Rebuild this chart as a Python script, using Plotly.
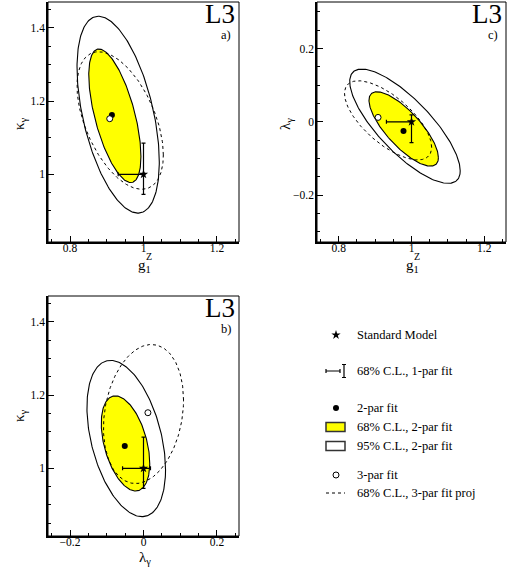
import numpy as np
import plotly.graph_objects as go

W, H = 507, 573
FONT = "Liberation Serif"

# ---------------- data ----------------
# parameter order: g1Z, kappa_gamma, lambda_gamma
SM = [1.0, 1.0, 0.0]
FIT1_VAL = [0.966, 1.015, -0.019]
FIT1_ERR = [0.035, 0.070, 0.038]
FIT3 = [0.908, 1.152, 0.012]

# 2-parameter fit central values per panel (x, y)
FIT2_A = [0.914, 1.162]     # g1Z vs kappa
FIT2_C = [0.978, -0.025]    # g1Z vs lambda
FIT2_B = [-0.051, 1.061]    # lambda vs kappa

# contours: [centre x, centre y, half-extent x, half-extent y, correlation]
A_CL68 = [0.922, 1.160, 0.071, 0.1825, -0.61]
A_CL95 = [0.931, 1.163, 0.112, 0.269, -0.48]
A_PROJ = [0.9365, 1.147, 0.1175, 0.188, -0.50]

C_CL68 = [0.9785, -0.0195, 0.0955, 0.1015, -0.77]
C_CL95 = [0.982, -0.012, 0.152, 0.156, -0.78]
C_PROJ = [0.9355, 0.004, 0.120, 0.108, -0.68]

B_CL68 = [-0.049, 1.068, 0.066, 0.130, -0.42]
B_CL95 = [-0.047, 1.0815, 0.107, 0.2135, -0.40]
B_PROJ = [0.000, 1.1485, 0.109, 0.190, 0.20]

# axis ticks: [tick0, major step, minor step]
TICK_STEPS = [0.0, 0.2, 0.05]

RANGE_G1Z = [0.74, 1.26]
RANGE_KAPPA = [0.815, 1.471]
RANGE_LAMBDA_X = [-0.26, 0.26]
RANGE_LAMBDA_Y = [-0.328, 0.327]

LEGEND_LABELS = ["Standard Model", "68% C.L., 1-par fit", "2-par fit",
                 "68% C.L., 2-par fit", "95% C.L., 2-par fit", "3-par fit",
                 "68% C.L., 3-par fit proj"]


def contour(p, n=240):
    cx, cy, a, b, rho = p
    t = np.linspace(0, 2 * np.pi, n)
    phi = np.arccos(rho)
    return cx + a * np.cos(t), cy + b * np.cos(t - phi)


fig = go.Figure()


def add_panel(xa, ya, cl68, cl95, proj, fit2, fit3, sm, f1x, e1x, f1y, e1y):
    x, y = contour(cl68)
    fig.add_trace(go.Scatter(x=x, y=y, xaxis=xa, yaxis=ya, mode="lines", fill="toself",
                             fillcolor="#ffff00", line=dict(color="black", width=1.1),
                             showlegend=False, hoverinfo="skip"))
    x, y = contour(cl95)
    fig.add_trace(go.Scatter(x=x, y=y, xaxis=xa, yaxis=ya, mode="lines",
                             line=dict(color="black", width=1.1),
                             showlegend=False, hoverinfo="skip"))
    x, y = contour(proj)
    fig.add_trace(go.Scatter(x=x, y=y, xaxis=xa, yaxis=ya, mode="lines",
                             line=dict(color="black", width=1, dash="3px,3px"),
                             showlegend=False, hoverinfo="skip"))
    # 1-par fit error bars, drawn at the SM value of the other parameter
    fig.add_trace(go.Scatter(x=[f1x], y=[sm[1]], xaxis=xa, yaxis=ya, mode="markers",
                             marker=dict(size=1, color="rgba(0,0,0,0)"),
                             error_x=dict(type="data", array=[e1x], color="black",
                                          thickness=1.2, width=2),
                             showlegend=False, hoverinfo="skip"))
    fig.add_trace(go.Scatter(x=[sm[0]], y=[f1y], xaxis=xa, yaxis=ya, mode="markers",
                             marker=dict(size=1, color="rgba(0,0,0,0)"),
                             error_y=dict(type="data", array=[e1y], color="black",
                                          thickness=1.2, width=2),
                             showlegend=False, hoverinfo="skip"))
    fig.add_trace(go.Scatter(x=[sm[0]], y=[sm[1]], xaxis=xa, yaxis=ya, mode="markers",
                             marker=dict(symbol="star", size=7, color="black"),
                             showlegend=False, hoverinfo="skip"))
    fig.add_trace(go.Scatter(x=[fit2[0]], y=[fit2[1]], xaxis=xa, yaxis=ya, mode="markers",
                             marker=dict(symbol="circle", size=6, color="black"),
                             showlegend=False, hoverinfo="skip"))
    fig.add_trace(go.Scatter(x=[fit3[0]], y=[fit3[1]], xaxis=xa, yaxis=ya, mode="markers",
                             marker=dict(symbol="circle", size=6, color="white",
                                         line=dict(color="black", width=1)),
                             showlegend=False, hoverinfo="skip"))


# panel a: g1Z vs kappa
add_panel("x", "y", A_CL68, A_CL95, A_PROJ, FIT2_A, [FIT3[0], FIT3[1]], [SM[0], SM[1]],
          FIT1_VAL[0], FIT1_ERR[0], FIT1_VAL[1], FIT1_ERR[1])
# panel c: g1Z vs lambda
add_panel("x2", "y2", C_CL68, C_CL95, C_PROJ, FIT2_C, [FIT3[0], FIT3[2]], [SM[0], SM[2]],
          FIT1_VAL[0], FIT1_ERR[0], FIT1_VAL[2], FIT1_ERR[2])
# panel b: lambda vs kappa
add_panel("x3", "y3", B_CL68, B_CL95, B_PROJ, FIT2_B, [FIT3[2], FIT3[1]], [SM[2], SM[1]],
          FIT1_VAL[2], FIT1_ERR[2], FIT1_VAL[1], FIT1_ERR[1])


def px(xp):
    return xp / W


def py(yp):
    return 1 - yp / H


def axis(domain, rng, anchor, standoff):
    return dict(domain=domain, range=rng, anchor=anchor, tickmode="linear",
                tick0=TICK_STEPS[0], dtick=TICK_STEPS[1], ticks="inside", ticklen=6,
                tickwidth=1, tickcolor="black", showline=True, linewidth=1.6,
                linecolor="black", showgrid=False, zeroline=False, fixedrange=True,
                ticklabelstandoff=standoff,
                minor=dict(ticks="inside", ticklen=3, tick0=TICK_STEPS[0],
                           dtick=TICK_STEPS[2], tickcolor="black", tickwidth=1,
                           showgrid=False),
                tickfont=dict(family=FONT, size=11.5, color="black"))


DOM_AX = [px(48), px(239)]
DOM_CX = [px(317), px(506)]
DOM_TOPY = [py(242), py(2)]
DOM_BOTY = [py(536), py(296)]

layout = dict(
    width=W, height=H, margin=dict(l=0, r=0, t=0, b=0),
    paper_bgcolor="white", plot_bgcolor="rgba(0,0,0,0)",
    font=dict(family=FONT, color="black"),
    showlegend=False,
    xaxis=axis(DOM_AX, RANGE_G1Z, "y", -6),
    yaxis=axis(DOM_TOPY, RANGE_KAPPA, "x", -1),
    xaxis2=axis(DOM_CX, RANGE_G1Z, "y2", -6),
    yaxis2=axis(DOM_TOPY, RANGE_LAMBDA_Y, "x2", -1),
    xaxis3=axis(DOM_AX, RANGE_LAMBDA_X, "y3", -6),
    yaxis3=axis(DOM_BOTY, RANGE_KAPPA, "x3", -1),
    xaxis4=dict(domain=[px(300), 1], range=[300, W], visible=False, anchor="y4",
                fixedrange=True),
    yaxis4=dict(domain=[py(520), py(310)], range=[520, 310], visible=False, anchor="x4",
                fixedrange=True),
)
fig.update_layout(**layout)

shapes = []
annotations = []
# thin frame on each panel
for xa, ya in [("x", "y"), ("x2", "y2"), ("x3", "y3")]:
    shapes.append(dict(type="rect", xref=f"{xa} domain", yref=f"{ya} domain",
                       x0=0, x1=1, y0=0, y1=1, line=dict(color="black", width=1),
                       layer="above"))

# L3 labels and panel letters
for xa, ya, letter in [("x", "y", "a)"), ("x2", "y2", "c)"), ("x3", "y3", "b)")]:
    annotations.append(dict(text="L3", xref=f"{xa} domain", yref=f"{ya} domain",
                            x=1, y=1, xanchor="right", yanchor="top", xshift=-2, yshift=5,
                            showarrow=False, font=dict(family=FONT, size=27, color="black")))
    annotations.append(dict(text=letter, xref=f"{xa} domain", yref=f"{ya} domain",
                            x=1, y=1, xanchor="right", yanchor="top", xshift=-6, yshift=-24,
                            showarrow=False, font=dict(family=FONT, size=12.5, color="black")))


def title(text, xp, yp, size=15, angle=0):
    annotations.append(dict(text=text, xref="paper", yref="paper", x=px(xp), y=py(yp),
                            xanchor="center", yanchor="middle", textangle=angle,
                            showarrow=False, font=dict(family=FONT, size=size, color="black")))


title("κ<sub>γ</sub>", 20, 124, angle=-90)
title("κ<sub>γ</sub>", 20, 416, angle=-90)
title("λ<sub>γ</sub>", 286, 124, angle=-90)
title("λ<sub>γ</sub>", 145, 558)
for cx in (144, 412):
    title("g<sub>1</sub>", cx, 266)
    title("Z", cx + 5, 257, size=10)

# legend (glyph positions are layout, in pixel units of the legend box)
LEG_TX = 355
LEG_GX = 336
LEG_Y = [335, 371, 408, 427, 446, 475, 493]
for lab, yy in zip(LEGEND_LABELS, LEG_Y):
    annotations.append(dict(text=lab, xref="paper", yref="paper", x=px(LEG_TX), y=py(yy),
                            xanchor="left", yanchor="middle", showarrow=False,
                            font=dict(family=FONT, size=12.5, color="black")))

fig.add_trace(go.Scatter(x=[LEG_GX], y=[LEG_Y[0]], xaxis="x4", yaxis="y4", mode="markers",
                         marker=dict(symbol="star", size=7, color="black"), hoverinfo="skip"))
fig.add_trace(go.Scatter(x=[333], y=[LEG_Y[1]], xaxis="x4", yaxis="y4", mode="markers",
                         marker=dict(size=1, color="rgba(0,0,0,0)"),
                         error_x=dict(type="data", array=[7], color="black", thickness=1.2, width=2),
                         hoverinfo="skip"))
fig.add_trace(go.Scatter(x=[344], y=[LEG_Y[1]], xaxis="x4", yaxis="y4", mode="markers",
                         marker=dict(size=1, color="rgba(0,0,0,0)"),
                         error_y=dict(type="data", array=[6.5], color="black", thickness=1.2, width=2),
                         hoverinfo="skip"))
fig.add_trace(go.Scatter(x=[LEG_GX], y=[LEG_Y[2]], xaxis="x4", yaxis="y4", mode="markers",
                         marker=dict(symbol="circle", size=6, color="black"), hoverinfo="skip"))
fig.add_trace(go.Scatter(x=[LEG_GX], y=[LEG_Y[5]], xaxis="x4", yaxis="y4", mode="markers",
                         marker=dict(symbol="circle", size=6, color="white",
                                     line=dict(color="black", width=1)), hoverinfo="skip"))
shapes.append(dict(type="rect", xref="x4", yref="y4", x0=326, x1=345,
                   y0=LEG_Y[3] - 4.5, y1=LEG_Y[3] + 4.5, fillcolor="#ffff00",
                   line=dict(color="#333", width=1.5)))
shapes.append(dict(type="rect", xref="x4", yref="y4", x0=326, x1=345,
                   y0=LEG_Y[4] - 4.5, y1=LEG_Y[4] + 4.5, fillcolor="white",
                   line=dict(color="#333", width=1.5)))
shapes.append(dict(type="line", xref="x4", yref="y4", x0=326, x1=345,
                   y0=LEG_Y[6], y1=LEG_Y[6], line=dict(color="black", width=1, dash="3px,3px")))

fig.update_layout(shapes=shapes, annotations=annotations)
fig.write_html("out.html", config={"displayModeBar": False},
               post_script="document.body.style.margin='0px';")
